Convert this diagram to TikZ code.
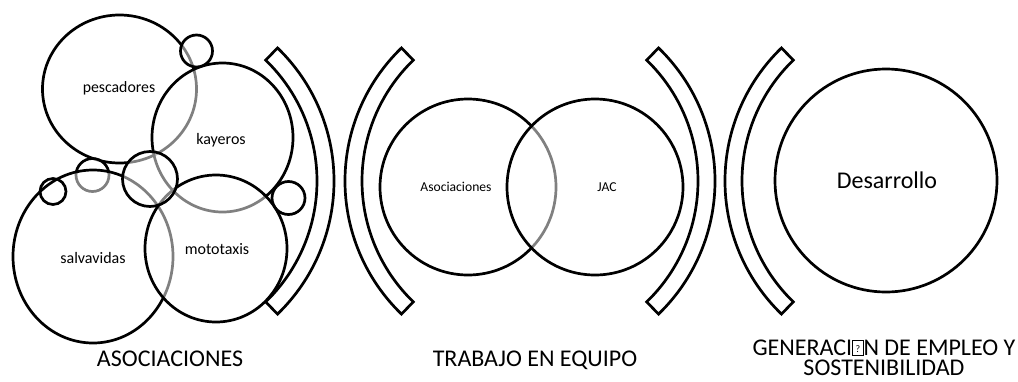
\documentclass[tikz,border=0pt]{standalone}
\usepackage{fontspec}
\setmainfont{Carlito}
\newcommand\tofubox{{\fboxsep=0pt\fboxrule=0.9pt\fbox{\makebox[9.5pt]{\rule{0pt}{14pt}\raisebox{3pt}{\fontsize{10}{10}\selectfont ?}}}}}
\begin{document}
\begin{tikzpicture}[x=1pt,y=-1pt,
  bub/.style={draw=black,line width=2.7pt,fill=white,fill opacity=0.5,draw opacity=1},
  ring/.style={draw=black,line width=2.7pt},
  band/.style={draw=black,line width=2.7pt,line join=miter},
  lbl/.style={inner sep=0pt,text=black},
  title/.style={inner sep=0pt,font=\fontsize{24}{20.5}\selectfont,align=center,anchor=base}]
\useasboundingbox[fill=white] (0,0) rectangle (1018,381);
% centres
\coordinate (pes) at (119.5,89);
\coordinate (kay) at (222.5,137.5);
\coordinate (stop) at (196.5,51);
\coordinate (sgray) at (92.5,175);
\coordinate (sal) at (93,256.5);
\coordinate (mot) at (216,248.5);
\coordinate (smid) at (150,179);
\coordinate (sright) at (288.5,198);
\coordinate (sleft) at (53,191.5);
\coordinate (aso) at (468,187);
\coordinate (jac) at (595,187);
\coordinate (des) at (886,180.5);
\coordinate (b1) at (149,181);
\coordinate (b23) at (530,181);
\coordinate (b4) at (910,181);
% circles, bottom to top
\path[bub] (pes) ellipse [x radius=77pt,y radius=74pt];
\path[bub] (kay) ellipse [x radius=70.5pt,y radius=74.5pt];
\path[bub] (stop) circle [radius=16pt];
\path[bub] (sgray) circle [radius=16.5pt];
\path[bub] (sal) ellipse [x radius=80pt,y radius=86.5pt];
\path[bub] (mot) ellipse [x radius=71pt,y radius=73.5pt];
\path[bub] (smid) ellipse [x radius=27.5pt,y radius=27.5pt];
\path[ring] (sright) circle [radius=16.5pt];
\path[ring] (sleft) circle [radius=13pt];
\path[bub] (aso) circle [radius=88pt];
\path[bub] (jac) circle [radius=88pt];
\path[ring] (des) ellipse [x radius=111pt,y radius=111.5pt];
% brackets
\draw[band] (b1) ++(46:185pt) arc[start angle=46,end angle=-46,radius=185pt]
   -- ++(134:17pt) arc[start angle=-46,end angle=46,radius=168pt] -- cycle;
\draw[band] (b23) ++(134:185pt) arc[start angle=134,end angle=226,radius=185pt]
   -- ++(46:17pt) arc[start angle=226,end angle=134,radius=168pt] -- cycle;
\draw[band] (b23) ++(46:185pt) arc[start angle=46,end angle=-46,radius=185pt]
   -- ++(134:17pt) arc[start angle=-46,end angle=46,radius=168pt] -- cycle;
\draw[band] (b4) ++(134:185pt) arc[start angle=134,end angle=226,radius=185pt]
   -- ++(46:17pt) arc[start angle=226,end angle=134,radius=168pt] -- cycle;
% labels
\node[lbl,font=\fontsize{15.8}{18}\selectfont] (tpes) at (119,88) {pescadores};
\node[lbl,font=\fontsize{16}{18}\selectfont] (tkay) at (221,140) {kayeros};
\node[lbl,font=\fontsize{16}{18}\selectfont] (tmot) at (217,249) {mototaxis};
\node[lbl,font=\fontsize{16}{18}\selectfont] (tsal) at (93,258) {salvavidas};
\node[lbl,font=\fontsize{13.6}{16}\selectfont] (taso) at (456,187) {Asociaciones};
\node[lbl,font=\fontsize{13.6}{16}\selectfont] (tjac) at (607,187) {JAC};
\node[lbl,font=\fontsize{24}{26}\selectfont] (tdes) at (887,180) {Desarrollo};
\node[title] (h1) at (170,366.5) {ASOCIACIONES};
\node[title] (h2) at (535,366.5) {TRABAJO EN EQUIPO};
\node[title] (h3) at (884,375.5) {GENERACI\tofubox N DE EMPLEO Y\\SOSTENIBILIDAD};
\end{tikzpicture}
\end{document}
